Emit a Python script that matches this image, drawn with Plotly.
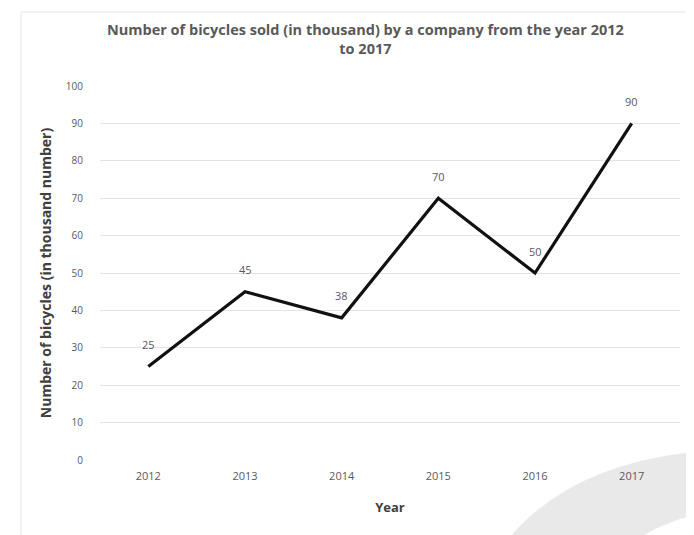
import plotly.graph_objects as go

years = ["2012", "2013", "2014", "2015", "2016", "2017"]
bicycles = [25, 45, 38, 70, 50, 90]
y_ticks = [0, 10, 20, 30, 40, 50, 60, 70, 80, 90, 100]

FONT = "Open Sans, sans-serif"
W, H = 694, 535
L, R, T, B = 92, 22, 78, 83
PW, PH = W - L - R, H - T - B


def px(x):
    return (x - L) / PW


def py(y):
    return (H - B - y) / PH


fig = go.Figure()
fig.add_trace(go.Scatter(
    x=years, y=bicycles, mode="lines",
    line=dict(color="#111111", width=3.2),
    hoverinfo="skip", showlegend=False,
))

for i, v in enumerate(bicycles):
    fig.add_annotation(x=i, y=v, xref="x", yref="y", text=str(v), showarrow=False, yshift=22,
                       font=dict(family=FONT, size=11, color="#595959"))

swoosh = (f"M {px(497)} {py(535)} Q {px(560)} {py(455)} {px(694)} {py(443)} "
          f"L {px(694)} {py(505)} Q {px(650)} {py(515)} {px(625)} {py(535)} Z")

fig.update_layout(
    width=W, height=H,
    margin=dict(l=L, r=R, t=T, b=B),
    paper_bgcolor="white", plot_bgcolor="white",
    title=dict(
        text="<b>Number of bicycles sold (in thousand) by a company from the year 2012<br>to 2017</b>",
        x=0.515, xanchor="center", y=0.95, yanchor="top",
        font=dict(family=FONT, size=14.5, color="#595959"),
    ),
    xaxis=dict(
        type="category", range=[-0.5, 5.5],
        showgrid=False, zeroline=False, showline=False, ticks="",
        tickfont=dict(family=FONT, size=11, color="#595959"),
        ticklabelstandoff=8,
        title=dict(text="<b>Year</b>", font=dict(family=FONT, size=13, color="#404040"), standoff=20),
    ),
    yaxis=dict(
        range=[0, 100], tickvals=y_ticks,
        showgrid=True, gridcolor="#e3e3e3", gridwidth=1,
        zeroline=False, showline=False, ticks="",
        tickfont=dict(family=FONT, size=10, color="#595959"),
        ticklabelstandoff=16,
        title=dict(text="<b>Number of bicycles (in thousand number)</b>",
                   font=dict(family=FONT, size=14, color="#404040"), standoff=10),
    ),
    shapes=[
        dict(type="rect", xref="paper", yref="paper",
             x0=px(13), x1=px(700), y0=py(530), y1=py(4),
             line=dict(color="#e6e6e6", width=1), layer="below"),
        dict(type="path", xref="paper", yref="paper", path=swoosh,
             fillcolor="#e9e9e9", line=dict(width=0), layer="below"),
    ],
)

fig.write_html("out.html")
